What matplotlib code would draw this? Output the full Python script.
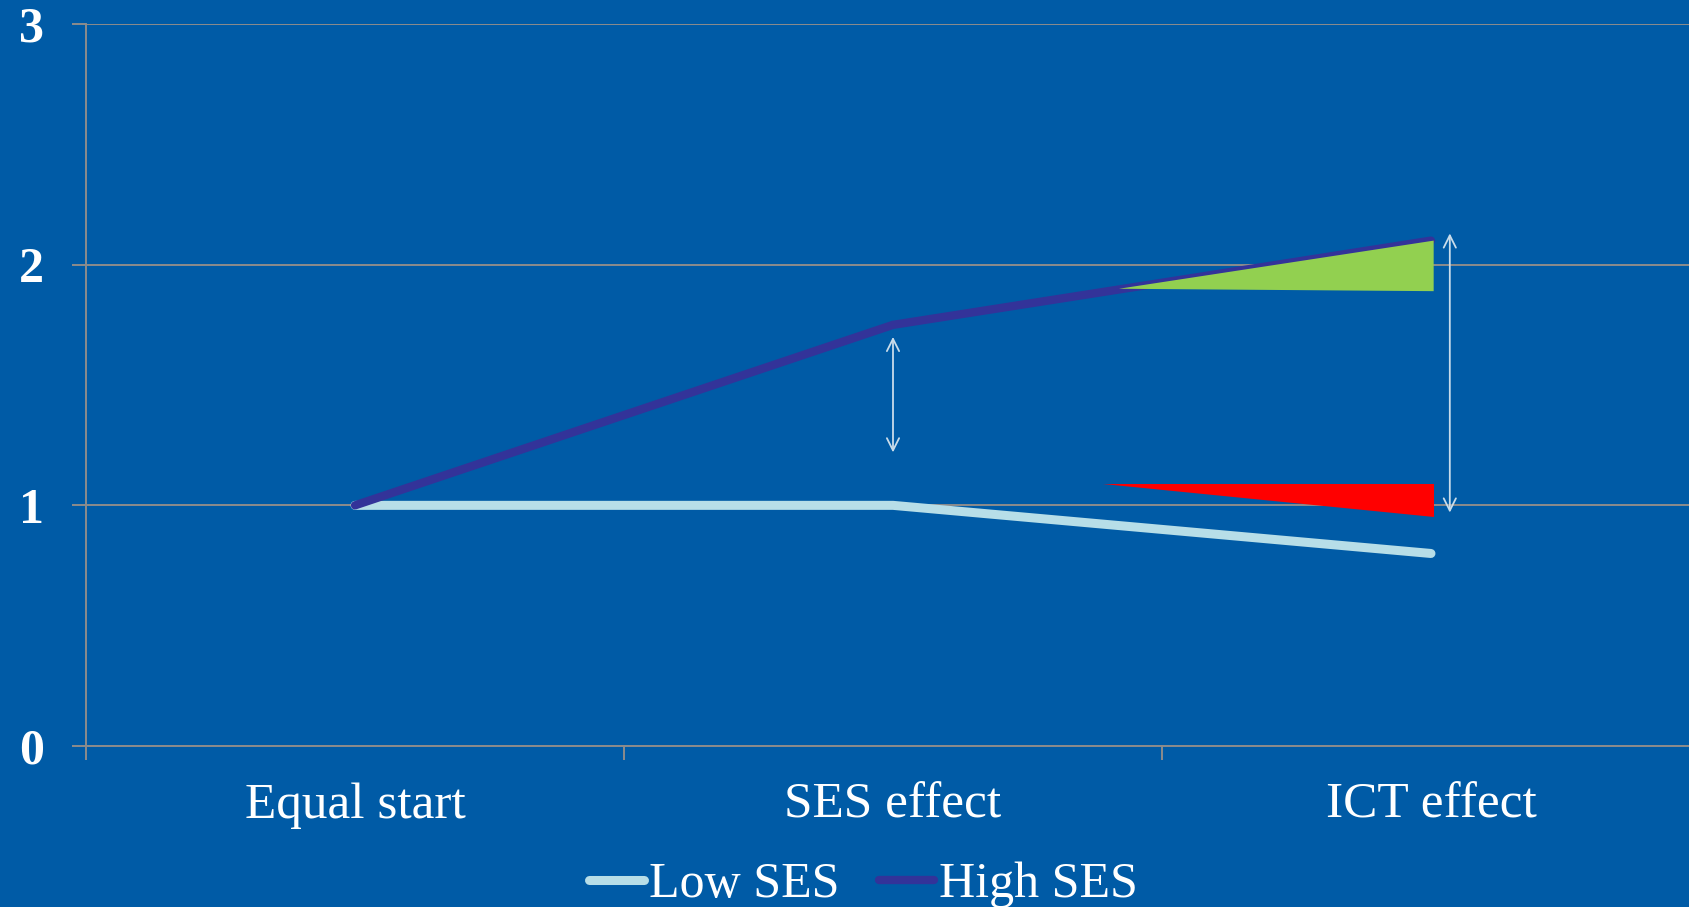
import matplotlib

matplotlib.use("Agg")
import matplotlib.pyplot as plt
from matplotlib.patches import Polygon

# ---- data -------------------------------------------------------------------
categories = ["Equal start", "SES effect", "ICT effect"]
low_ses = [1.0, 1.0, 0.8]
high_ses = [1.0, 1.75, 2.1]

# shaded "ICT effect" wedges (x in category units, y in chart units)
gain_wedge = [(1.42, 1.90), (2.005, 2.10), (2.005, 1.89)]
loss_wedge = [(1.39, 1.09), (2.005, 1.09), (2.005, 0.95)]

# double-headed gap arrows: (x, y_top, y_bottom)
gap_arrows = [(1.0, 1.70, 1.22), (2.035, 2.13, 0.97)]

BG = "#005BA6"
GRID = "#8C8C8C"
LOW_C = "#B7DEE8"
HIGH_C = "#333399"
ARROW_C = "#C9DCEA"

plt.rcParams["font.family"] = ["Liberation Serif", "DejaVu Serif"]

fig = plt.figure(figsize=(16.9, 9.07), dpi=100, facecolor=BG)
ax = fig.add_axes([0.0509, 0.1775, 0.955, 0.796])
ax.set_facecolor(BG)

x = list(range(len(categories)))
ax.plot(x, low_ses, color=LOW_C, lw=6.5, solid_capstyle="round", label="Low SES", zorder=3)
ax.plot(x, high_ses, color=HIGH_C, lw=6, solid_capstyle="round", label="High SES", zorder=4)

ax.add_patch(Polygon(gain_wedge, closed=True, color="#92D050", lw=0, zorder=5))
ax.add_patch(Polygon(loss_wedge, closed=True, color="#FF0000", lw=0, zorder=5))

for ax_x, y0, y1 in gap_arrows:
    ax.annotate("", xy=(ax_x, y0), xytext=(ax_x, y1),
                arrowprops=dict(arrowstyle="<->", color=ARROW_C, lw=1.3,
                                mutation_scale=22, shrinkA=0, shrinkB=0),
                zorder=6)

ax.set_xlim(-0.5, 2.5)
ax.set_ylim(0, 3)
ax.set_yticks([0, 1, 2, 3])
ax.yaxis.grid(True, color=GRID, lw=1.4, zorder=0)
ax.set_axisbelow(True)

ax.set_xticks(x)
ax.set_xticklabels(categories)
ax.set_xticks([-0.5, 0.5, 1.5, 2.5], minor=True)
ax.tick_params(axis="x", which="major", length=0, pad=26, labelsize=37, labelcolor="white")
ax.tick_params(axis="x", which="minor", length=10, width=1.4, color=GRID)
ax.tick_params(axis="y", length=10, width=1.4, color=GRID, pad=20, labelsize=36,
               labelcolor="white")
for lbl in ax.get_yticklabels():
    lbl.set_fontweight("bold")

for side in ("top", "right"):
    ax.spines[side].set_visible(False)
for side in ("left", "bottom"):
    ax.spines[side].set_color(GRID)
    ax.spines[side].set_linewidth(1.4)

leg = fig.legend(loc="center", bbox_to_anchor=(0.511, 0.024), ncol=2, frameon=False,
                 fontsize=36, handlelength=1.1, handletextpad=0.1, columnspacing=0.8,
                 labelcolor="white")

fig.savefig("out.png", dpi=100, facecolor=BG)
